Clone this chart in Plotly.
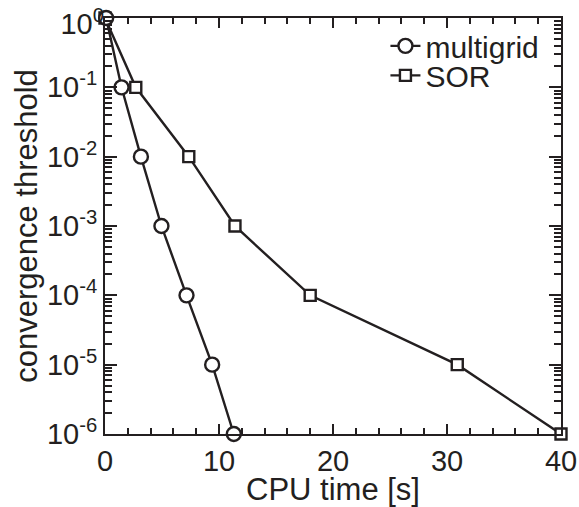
import plotly.graph_objects as go

# Data
thresholds = [1e0, 1e-1, 1e-2, 1e-3, 1e-4, 1e-5, 1e-6]
multigrid_time = [0.1, 1.45, 3.15, 4.95, 7.15, 9.4, 11.3]
sor_time = [0.0, 2.7, 7.35, 11.4, 18.0, 30.9, 40.0]

x_tickvals = [0, 10, 20, 30, 40]
y_tickvals = [1e0, 1e-1, 1e-2, 1e-3, 1e-4, 1e-5, 1e-6]
y_ticktext = ["10<sup>0</sup>", "10<sup>-1</sup>", "10<sup>-2</sup>", "10<sup>-3</sup>",
              "10<sup>-4</sup>", "10<sup>-5</sup>", "10<sup>-6</sup>"]

# minor log tick positions (2..9 within each decade)
y_minor = [m * 10.0 ** e for e in range(-6, 0) for m in range(2, 10)]

INK = "#231f20"
FONT = "Liberation Sans, Arial, sans-serif"

fig = go.Figure()
fig.add_trace(go.Scatter(
    x=sor_time, y=thresholds, name="SOR", mode="lines+markers",
    line=dict(color=INK, width=2.4),
    marker=dict(symbol="square", size=11, color="white", line=dict(color=INK, width=2.4)),
    cliponaxis=False, legend="legend2",
))
fig.add_trace(go.Scatter(
    x=multigrid_time, y=thresholds, name="multigrid", mode="lines+markers",
    line=dict(color=INK, width=2.4),
    marker=dict(symbol="circle", size=14, color="white", line=dict(color=INK, width=2.4)),
    cliponaxis=False, legend="legend",
))
# invisible traces to activate the mirrored (top/right) axes and the top-label axis
fig.add_trace(go.Scatter(x=[None], y=[None], xaxis="x2", yaxis="y2",
                         showlegend=False, hoverinfo="skip"))
fig.add_trace(go.Scatter(x=[None], y=[None], xaxis="x", yaxis="y3",
                         showlegend=False, hoverinfo="skip"))

leg_common = dict(xanchor="left", yanchor="middle", bgcolor="rgba(0,0,0,0)",
                  font=dict(size=30, family=FONT, color=INK), itemwidth=30,
                  borderwidth=0)

fig.update_layout(
    width=579, height=507,
    margin=dict(l=105, r=18, t=18, b=73),
    paper_bgcolor="white", plot_bgcolor="white",
    font=dict(family=FONT, color=INK, size=29),
    showlegend=True,
    legend=dict(x=0.615, y=0.933, **leg_common),
    legend2=dict(x=0.615, y=0.862, **leg_common),
)

tick_common = dict(showline=True, linecolor=INK, linewidth=2, ticks="inside",
                   tickcolor=INK, tickwidth=1.5, showgrid=False, zeroline=False,
                   automargin=False, ticklabeloverflow="allow")

main_ticktext = [""] + y_ticktext[1:]

fig.update_layout(
    xaxis=dict(range=[0, 40], tickvals=x_tickvals, ticklen=10,
               minor=dict(dtick=2, ticks="inside", ticklen=6, tickwidth=1.5, tickcolor=INK),
               tickfont=dict(size=29),
               title=dict(text="CPU time [s]", font=dict(size=31), standoff=2),
               **tick_common),
    yaxis=dict(type="log", range=[-6, 0], tickvals=y_tickvals, ticktext=main_ticktext,
               ticklen=12,
               minor=dict(tickvals=y_minor, ticks="inside", ticklen=7, tickwidth=1.5, tickcolor=INK),
               tickfont=dict(size=29),
               title=dict(text="convergence threshold", font=dict(size=31), standoff=0),
               **tick_common),
    yaxis3=dict(type="log", range=[-6, 0], tickvals=y_tickvals[:1], ticktext=y_ticktext[:1],
                overlaying="y", side="left", anchor="x", showline=False, ticks="",
                showgrid=False, zeroline=False, automargin=False,
                ticklabeloverflow="allow", ticklabelshift=6, tickfont=dict(size=29)),
    xaxis2=dict(range=[0, 40], tickvals=x_tickvals, ticklen=10, overlaying="x",
                side="top", anchor="y2", showticklabels=False,
                minor=dict(dtick=2, ticks="inside", ticklen=6, tickwidth=1.5, tickcolor=INK),
                **tick_common),
    yaxis2=dict(type="log", range=[-6, 0], tickvals=y_tickvals, ticklen=12, overlaying="y",
                side="right", anchor="x2", showticklabels=False,
                minor=dict(tickvals=y_minor, ticks="inside", ticklen=7, tickwidth=1.5, tickcolor=INK),
                **tick_common),
)

fig.write_html("out.html",
               config={"displayModeBar": False},
               post_script="document.body.style.margin='0';document.body.style.overflow='hidden';")
